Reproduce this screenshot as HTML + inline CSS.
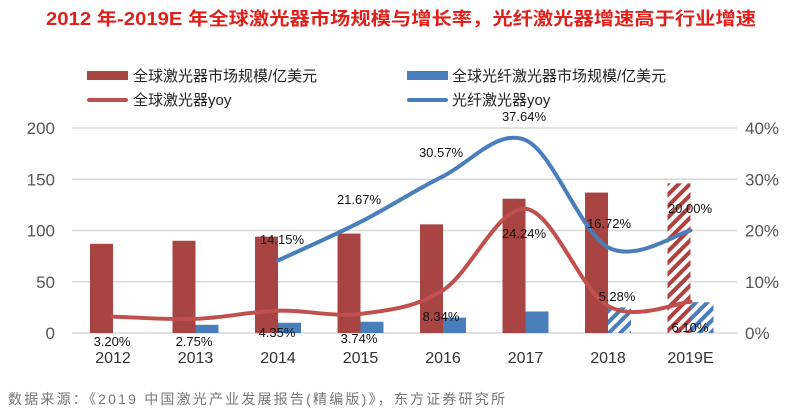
<!DOCTYPE html>
<html><head><meta charset="utf-8"><style>
body{margin:0;background:#fff;}
svg text{font-family:"Liberation Sans","Noto Sans CJK SC",sans-serif;}
</style></head><body>
<svg id="s" width="800" height="415" viewBox="0 0 800 415" xmlns="http://www.w3.org/2000/svg">
<defs>
<pattern id="hr" width="8" height="8" patternUnits="userSpaceOnUse" patternTransform="rotate(45)"><rect width="4" height="8" fill="#b0413e"/></pattern>
<pattern id="hb" width="8" height="8" patternUnits="userSpaceOnUse" patternTransform="rotate(45)"><rect width="4" height="8" fill="#4a7ebb"/></pattern>
</defs>
<text x="46" y="25" font-size="18" font-weight="bold" fill="#e0201a" textLength="710" lengthAdjust="spacingAndGlyphs">2012 年-2019E 年全球激光器市场规模与增长率，光纤激光器增速高于行业增速</text>
<rect x="87" y="71" width="41" height="9" fill="#a84442"/>
<text x="133" y="81" font-size="15" fill="#222">全球激光器市场规模/亿美元</text>
<rect x="407" y="71" width="41" height="9" fill="#4a7ebb"/>
<text x="452" y="81" font-size="15" fill="#222">全球光纤激光器市场规模/亿美元</text>
<line x1="89" y1="100" x2="126" y2="100" stroke="#c0504d" stroke-width="4" stroke-linecap="round"/>
<text x="133" y="105" font-size="15" fill="#222">全球激光器yoy</text>
<line x1="409" y1="100" x2="446" y2="100" stroke="#4a7ebb" stroke-width="4" stroke-linecap="round"/>
<text x="452" y="105" font-size="15" fill="#222">光纤激光器yoy</text>
<g id="g"></g>
<text x="8" y="404" font-size="14" fill="#777" textLength="497" lengthAdjust="spacing">数据来源：《2019 中国激光产业发展报告(精编版)》，东方证券研究所</text>
</svg>
<script>
var g=document.getElementById('g'),h='';
var y0=333,k=1.025,pk=5.125;
[0,50,100,150,200].forEach(function(v){var y=y0-v*k;h+='<line x1="72" x2="737" y1="'+y+'" y2="'+y+'" stroke="#d9d9d9" stroke-width="1.5"/>';h+='<text x="55" y="'+(y+6)+'" text-anchor="end" font-size="17" fill="#555">'+v+'</text>';});
['0%','10%','20%','30%','40%'].forEach(function(t,i){var y=y0-i*10*pk;h+='<text x="745" y="'+(y+6)+'" font-size="17" fill="#555">'+t+'</text>';});
var red=[87,90,94,97,106,131,137,146],blue=[0,8,10,11,15,21,25,30];
var yrs=['2012','2013','2014','2015','2016','2017','2018','2019E'];
for(var i=0;i<8;i++){var c=113+82.5*i;var hr=red[i]*k;
h+='<rect x="'+(c-23)+'" y="'+(y0-hr)+'" width="23" height="'+hr+'" fill="'+(i==7?'url(#hr)':'#a84442')+'"/>';
if(blue[i]){var hb=blue[i]*k;h+='<rect x="'+c+'" y="'+(y0-hb)+'" width="23" height="'+hb+'" fill="'+(i>=6?'url(#hb)':'#4a7ebb')+'"/>';}
h+='<text x="'+c+'" y="363" text-anchor="middle" font-size="16" fill="#333">'+yrs[i]+'</text>';}
function path(pts){var d='M'+pts[0][0]+','+pts[0][1];for(var i=0;i<pts.length-1;i++){var p0=pts[i-1]||pts[i],p1=pts[i],p2=pts[i+1],p3=pts[i+2]||p2;var t=1/6;d+=' C'+(p1[0]+(p2[0]-p0[0])*t)+','+(p1[1]+(p2[1]-p0[1])*t)+' '+(p2[0]-(p3[0]-p1[0])*t)+','+(p2[1]-(p3[1]-p1[1])*t)+' '+p2[0]+','+p2[1];}return d;}
var ry=[3.2,2.75,4.35,3.74,8.34,24.24,5.28,6.10],by=[14.15,21.67,30.57,37.64,16.72,20.00];
var rp=ry.map(function(v,i){return[113+82.5*i,y0-v*pk]});
var bp=by.map(function(v,i){return[113+82.5*(i+2),y0-v*pk]});
h+='<path d="'+path(rp)+'" fill="none" stroke="#c0504d" stroke-width="4" stroke-linecap="round"/>';
h+='<path d="'+path(bp)+'" fill="none" stroke="#4a7ebb" stroke-width="4" stroke-linecap="round"/>';
var rl=[[112,346,'3.20%'],[194,346,'2.75%'],[277,337,'4.35%'],[359,343,'3.74%'],[441,321,'8.34%'],[524,238,'24.24%'],[617,301,'5.28%'],[690,332,'6.10%']];
var bl=[[282,244,'14.15%'],[359,204,'21.67%'],[441,157,'30.57%'],[524,121,'37.64%'],[609,228,'16.72%'],[690,213,'20.00%']];
rl.concat(bl).forEach(function(l){h+='<text x="'+l[0]+'" y="'+l[1]+'" text-anchor="middle" font-size="13" fill="#111">'+l[2]+'</text>';});
g.innerHTML=h;
</script>
</body></html>
